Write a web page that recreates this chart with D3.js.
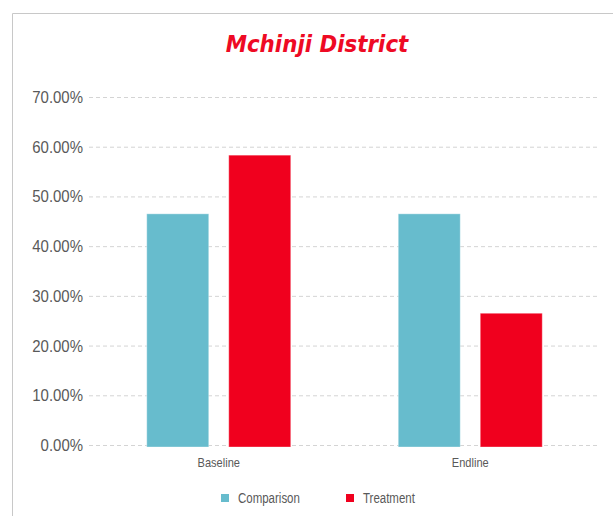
<!DOCTYPE html>
<html>
<head>
<meta charset="utf-8">
<script src="https://cdn.jsdelivr.net/npm/d3@7"></script>
<style>
  body { margin: 0; background: #fff; }
  .tick text { font-family: "Liberation Sans Narrow", "Arial Narrow", "Liberation Sans", sans-serif; fill: #595959; }
</style>
</head>
<body>
<div id="chart"></div>
<script>
var categories = ["Baseline", "Endline"];
var series = ["Comparison", "Treatment"];
var comparison = [0.465, 0.465];
var treatment = [0.583, 0.265];
var yTicks = [0, 0.1, 0.2, 0.3, 0.4, 0.5, 0.6, 0.7];
var colors = ["#67bccd", "#f0001e"];

var width = 613,
    height = 516;

var rows = categories.map(function (c, i) {
    return {category: c, values: [comparison[i], treatment[i]]};
});

var svg = d3.select('#chart')
    .append('svg')
    .attr('width', width)
    .attr('height', height);

// squeeze text horizontally, no narrow font installed
function narrow(sel, k) {
    sel.each(function () {
        var w = this.getComputedTextLength();
        d3.select(this)
            .attr('textLength', w * k)
            .attr('lengthAdjust', 'spacingAndGlyphs');
    });
}

// frame
svg.append('path')
    .attr('d', 'M12.5,' + height + 'V13.5H' + width)
    .attr('fill', 'none')
    .attr('stroke', '#c8c8c8')
    .attr('stroke-width', 1);

svg.append('text')
    .attr('x', 317)
    .attr('y', 52)
    .attr('text-anchor', 'middle')
    .attr('fill', '#ee0a24')
    .style('font-family', '"Comic Sans MS", "DejaVu Sans", sans-serif')
    .style('font-style', 'italic')
    .style('font-weight', 'bold')
    .style('font-size', '23px')
    .text('Mchinji District')
    .call(narrow, 0.93);

var y = d3.scaleLinear().domain([0, 0.7]).range([445, 97]);

var x0 = d3.scaleBand().domain(categories).range([93, 596]);
var groupW = 144;
var x1 = d3.scaleBand().domain(series)
    .range([(x0.bandwidth() - groupW) / 2, (x0.bandwidth() + groupW) / 2])
    .paddingInner(0.244);

// grid lines + y labels
var yAxis = svg.append('g')
    .attr('transform', 'translate(89,0)')
    .call(d3.axisLeft(y).tickValues(yTicks)
        .tickFormat(d3.format('.2%'))
        .tickSize(-511)
        .tickPadding(6));
yAxis.select('.domain').remove();
yAxis.selectAll('.tick line')
    .attr('stroke', '#d4d4d4')
    .attr('stroke-dasharray', '4,3');
yAxis.selectAll('.tick text')
    .style('font-size', '17px')
    .call(narrow, 0.88);

// bars
var group = svg.append('g')
    .selectAll('g')
    .data(rows)
    .enter()
    .append('g')
    .attr('transform', function (d) { return 'translate(' + x0(d.category) + ',0)'; });

group.selectAll('rect')
    .data(function (d) { return d.values.map(function (v, i) { return {key: series[i], value: v, i: i}; }); })
    .enter()
    .append('rect')
    .attr('x', function (d) { return x1(d.key); })
    .attr('y', function (d) { return y(d.value); })
    .attr('width', x1.bandwidth())
    .attr('height', function (d) { return y(0) - y(d.value) + 2; })
    .attr('fill', function (d) { return colors[d.i]; })
    .attr('stroke', 'rgba(255,255,255,0.35)')
    .attr('stroke-width', 1);

// category labels
var xAxis = svg.append('g')
    .attr('transform', 'translate(0,447)')
    .call(d3.axisBottom(x0).tickSize(0).tickPadding(11));
xAxis.select('.domain').remove();
xAxis.selectAll('.tick text')
    .style('font-size', '13px')
    .call(narrow, 0.85);

// legend
var legendX = [221, 346];
var legend = svg.append('g')
    .selectAll('g')
    .data(series)
    .enter()
    .append('g')
    .attr('transform', function (d, i) { return 'translate(' + legendX[i] + ',494)'; });

legend.append('rect')
    .attr('width', 8)
    .attr('height', 8)
    .attr('fill', function (d, i) { return colors[i]; });

legend.append('text')
    .attr('x', 17)
    .attr('y', 8.5)
    .attr('fill', '#595959')
    .style('font-family', '"Liberation Sans Narrow", "Arial Narrow", "Liberation Sans", sans-serif')
    .style('font-size', '14px')
    .text(function (d) { return d; })
    .call(narrow, 0.82);
</script>
</body>
</html>
